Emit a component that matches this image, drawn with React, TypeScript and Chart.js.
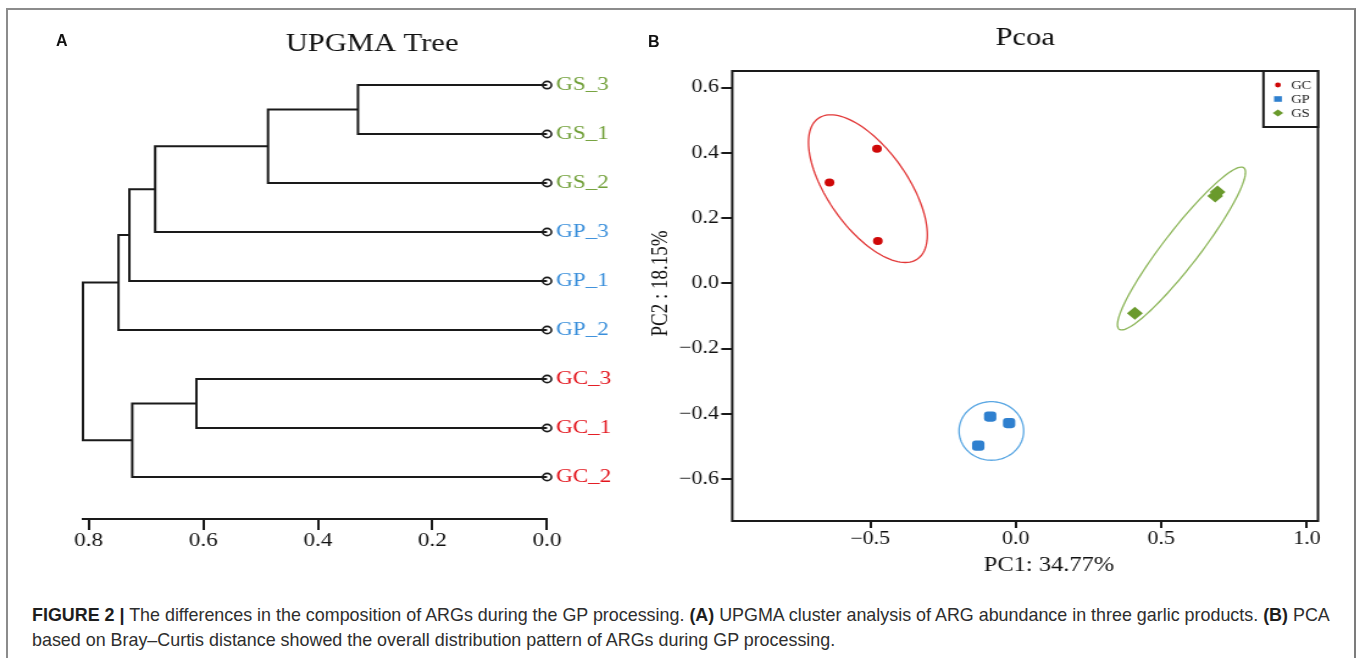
import React, { useEffect, useRef } from "react";
import { Chart, registerables } from "chart.js";

Chart.register(...registerables);

const SERIF = '"Liberation Serif", "Times New Roman", serif';
const SANS = '"Liberation Sans", Arial, Helvetica, sans-serif';
// the original figure is horizontally stretched; the chart canvases are stretched the same way
const STRETCH = 1.22;

// ---------------- Panel A: UPGMA tree ----------------
const leafNames = ["GS_3", "GS_1", "GS_2", "GP_3", "GP_1", "GP_2", "GC_3", "GC_1", "GC_2"];
const leafGroups = ["GS", "GS", "GS", "GP", "GP", "GP", "GC", "GC", "GC"];
// merge k joins mergeLeft[k] and mergeRight[k]; indices < 9 are leaves, 9 + k is merge k
const mergeLeft = [0, 9, 10, 11, 12, 6, 14, 13];
const mergeRight = [1, 2, 3, 4, 5, 7, 8, 15];
const mergeHeight = [0.33, 0.487, 0.684, 0.729, 0.748, 0.612, 0.724, 0.81];
const treeTicks = [0, 0.2, 0.4, 0.6, 0.8];

// ---------------- Panel B: PCoA ----------------
const groups = ["GC", "GP", "GS"];
const gcX = [-0.477, -0.64, -0.474];
const gcY = [0.413, 0.309, 0.13];
const gpX = [-0.088, -0.023, -0.129];
const gpY = [-0.408, -0.428, -0.497];
const gsX = [0.685, 0.693, 0.409];
const gsY = [0.268, 0.28, -0.091];
const pcoaXTicks = [-0.5, 0, 0.5, 1.0];
const pcoaYTicks = [-0.6, -0.4, -0.2, 0, 0.2, 0.4, 0.6];
// confidence ellipses (data units): centre and two half-axis vectors
const ellipseCenterX = [-0.508, -0.084, 0.569];
const ellipseCenterY = [0.2905, -0.452, 0.107];
const ellipseMajor = [[0.171, -0.215], [0.111, 0.0], [0.2144, 0.2473]];
const ellipseMinor = [[-0.1114, -0.0706], [0.0, 0.0898], [0.0489, -0.0338]];

const labelColors: Record<string, string> = { GC: "#e3141c", GP: "#3a8fdb", GS: "#72a03a" };
const pointColors: Record<string, string> = { GC: "#cf0808", GP: "#2f80cf", GS: "#6a9a2c" };
const ellipseColors: Record<string, string> = { GC: "#e23838", GP: "#5aa7e3", GS: "#8db65a" };
const INK = "#1a1a1a";

const fmt = (v: number) => (v < 0 ? "\u2212" + Math.abs(v).toFixed(1) : v.toFixed(1));

function treeDatasets() {
  const nodeY: number[] = leafNames.map((_, i) => i + 1);
  const nodeH: number[] = leafNames.map(() => 0);
  const sets: any[] = [];
  mergeHeight.forEach((h, k) => {
    const a = mergeLeft[k];
    const b = mergeRight[k];
    sets.push({
      type: "scatter",
      showLine: true,
      data: [
        { x: nodeH[a], y: nodeY[a] },
        { x: h, y: nodeY[a] },
        { x: h, y: nodeY[b] },
        { x: nodeH[b], y: nodeY[b] },
      ],
      borderColor: INK,
      borderWidth: 2,
      pointRadius: 0,
      tension: 0,
      clip: false,
      borderJoinStyle: "miter",
    });
    nodeY.push((nodeY[a] + nodeY[b]) / 2);
    nodeH.push(h);
  });
  sets.push({
    type: "scatter",
    data: leafNames.map((_, i) => ({ x: 0, y: i + 1 })),
    pointStyle: "circle",
    pointRadius: 3.6,
    pointBorderWidth: 1.6,
    pointBorderColor: INK,
    pointBackgroundColor: "rgba(255,255,255,0)",
    clip: false,
  });
  return sets;
}

const axisTitlePlugin = {
  id: "pcoaAxisTitles",
  afterDraw(chart: any) {
    const { ctx, chartArea } = chart;
    ctx.save();
    ctx.fillStyle = "#111";
    ctx.font = `20px ${SERIF}`;
    ctx.textAlign = "center";
    ctx.textBaseline = "alphabetic";
    ctx.fillText("PC1: 34.77%", (chartArea.left + chartArea.right) / 2 + 19.5, chartArea.bottom + 49.7);
    ctx.font = `19px ${SERIF}`;
    ctx.translate(chartArea.left - 53.7, (chartArea.top + chartArea.bottom) / 2 - 12.5);
    ctx.rotate(-Math.PI / 2);
    ctx.fillText("PC2 : 18.15%", 0, 0);
    ctx.restore();
  },
};

const framePlugin = {
  id: "pcoaFrame",
  afterDraw(chart: any) {
    const { ctx, chartArea } = chart;
    ctx.save();
    ctx.strokeStyle = INK;
    ctx.lineWidth = 2;
    ctx.strokeRect(chartArea.left, chartArea.top, chartArea.right - chartArea.left, chartArea.bottom - chartArea.top);
    // legend box
    const w = 44.7;
    const h = 56;
    const left = chartArea.right - w;
    const top = chartArea.top;
    ctx.fillStyle = "#fff";
    ctx.fillRect(left, top, w, h);
    ctx.strokeRect(left, top, w, h);
    groups.forEach((g, i) => {
      const cy = top + 14 + i * 14;
      const mx = chartArea.right - 32.8;
      ctx.fillStyle = pointColors[g];
      ctx.beginPath();
      if (g === "GC") {
        ctx.arc(mx, cy, 2.4, 0, Math.PI * 2);
      } else if (g === "GP") {
        ctx.rect(mx - 3.2, cy - 2.8, 6.4, 5.6);
      } else {
        ctx.moveTo(mx - 4.3, cy);
        ctx.lineTo(mx, cy - 3.5);
        ctx.lineTo(mx + 4.3, cy);
        ctx.lineTo(mx, cy + 3.5);
        ctx.closePath();
      }
      ctx.fill();
      ctx.fillStyle = "#222";
      ctx.font = `12px ${SERIF}`;
      ctx.textAlign = "left";
      ctx.textBaseline = "middle";
      ctx.fillText(g, chartArea.right - 22.1, cy + 0.5);
    });
    ctx.restore();
  },
};

const ellipsePlugin = {
  id: "pcoaEllipses",
  beforeDatasetsDraw(chart: any) {
    const { ctx } = chart;
    const xs = chart.scales.x;
    const ys = chart.scales.y;
    ctx.save();
    groups.forEach((g, i) => {
      ctx.beginPath();
      const steps = 120;
      for (let k = 0; k <= steps; k++) {
        const t = (2 * Math.PI * k) / steps;
        const vx = ellipseCenterX[i] + ellipseMajor[i][0] * Math.cos(t) + ellipseMinor[i][0] * Math.sin(t);
        const vy = ellipseCenterY[i] + ellipseMajor[i][1] * Math.cos(t) + ellipseMinor[i][1] * Math.sin(t);
        const px = xs.getPixelForValue(vx);
        const py = ys.getPixelForValue(vy);
        if (k === 0) ctx.moveTo(px, py);
        else ctx.lineTo(px, py);
      }
      ctx.closePath();
      ctx.strokeStyle = ellipseColors[g];
      ctx.lineWidth = 1.3;
      ctx.stroke();
    });
    ctx.restore();
  },
};

const A_W = 542;
const B_AXIS_W = 50;
const B_W = 639;
const CH_H = 597;

export default function App() {
  const refA = useRef<HTMLCanvasElement>(null);
  const refB = useRef<HTMLCanvasElement>(null);

  useEffect(() => {
    const chartA = new Chart(refA.current as HTMLCanvasElement, {
      type: "scatter",
      data: { datasets: treeDatasets() },
      options: {
        responsive: false,
        animation: false,
        events: [],
        layout: { padding: { left: 68, right: 0, top: 0, bottom: 0 } },
        plugins: {
          legend: { display: false },
          tooltip: { enabled: false },
          title: {
            display: true,
            text: "UPGMA Tree",
            color: "#111",
            font: { family: SERIF, size: 25, weight: "normal" },
            padding: { top: 29.3, bottom: 11.7 },
          },
        },
        scales: {
          x: {
            type: "linear",
            position: "bottom",
            reverse: true,
            min: 0,
            max: 0.81,
            afterBuildTicks: (s: any) => {
              s.ticks = treeTicks.map((v) => ({ value: v }));
            },
            afterFit: (s: any) => {
              s.height = CH_H - 519;
            },
            grid: { display: true, drawOnChartArea: false, drawTicks: true, tickLength: 11, color: INK, lineWidth: 2 },
            border: { display: true, color: INK, width: 2 },
            ticks: {
              autoSkip: false,
              maxRotation: 0,
              padding: 0,
              color: "#111",
              font: { family: SERIF, size: 19 },
              callback: (v: any) => Number(v).toFixed(1),
            },
          },
          y: {
            type: "linear",
            position: "right",
            reverse: true,
            min: 0.714,
            max: 9.857,
            afterBuildTicks: (s: any) => {
              s.ticks = leafNames.map((_, i) => ({ value: i + 1 }));
            },
            afterFit: (s: any) => {
              s.width = A_W - 448.4;
            },
            grid: { display: false, drawTicks: false },
            border: { display: false },
            ticks: {
              autoSkip: false,
              padding: 7.3,
              font: { family: SERIF, size: 19 },
              color: (c: any) => labelColors[leafGroups[Math.round(c.tick.value) - 1]],
              callback: (_v: any, i: number) => leafNames[i],
            },
          },
        },
      } as any,
    });

    const chartB = new Chart(refB.current as HTMLCanvasElement, {
      type: "scatter",
      data: {
        datasets: [
          {
            label: "GC",
            data: gcX.map((x, i) => ({ x, y: gcY[i] })),
            pointStyle: "circle",
            pointRadius: 4,
            pointBackgroundColor: pointColors.GC,
            pointBorderWidth: 0,
          },
          {
            label: "GP",
            data: gpX.map((x, i) => ({ x, y: gpY[i] })),
            pointStyle: "rectRounded",
            pointRadius: 5.9,
            pointBackgroundColor: pointColors.GP,
            pointBorderWidth: 0,
          },
          {
            label: "GS",
            data: gsX.map((x, i) => ({ x, y: gsY[i] })),
            pointStyle: "rectRot",
            pointRadius: 6.5,
            pointBackgroundColor: pointColors.GS,
            pointBorderWidth: 0,
          },
        ],
      },
      options: {
        responsive: false,
        animation: false,
        events: [],
        layout: { padding: { left: 108.4 - B_AXIS_W, right: B_W - 588.5 - B_AXIS_W, top: 0, bottom: 0 } },
        plugins: {
          legend: { display: false },
          tooltip: { enabled: false },
          title: {
            display: true,
            text: "Pcoa",
            color: "#111",
            font: { family: SERIF, size: 25, weight: "normal" },
            padding: { top: 23, bottom: 18 },
          },
        },
        scales: {
          x: {
            type: "linear",
            position: "bottom",
            min: -0.974,
            max: 1.038,
            afterBuildTicks: (s: any) => {
              s.ticks = pcoaXTicks.map((v) => ({ value: v }));
            },
            afterFit: (s: any) => {
              s.height = CH_H - 521;
            },
            grid: { display: true, drawOnChartArea: false, drawTicks: true, tickLength: 7, color: INK, lineWidth: 2 },
            border: { display: false },
            ticks: {
              autoSkip: false,
              maxRotation: 0,
              padding: 0,
              color: "#111",
              font: { family: SERIF, size: 18 },
              callback: (v: any) => fmt(Number(v)),
            },
          },
          y: {
            type: "linear",
            position: "left",
            min: -0.728,
            max: 0.651,
            afterBuildTicks: (s: any) => {
              s.ticks = pcoaYTicks.map((v) => ({ value: v }));
            },
            afterFit: (s: any) => {
              s.width = B_AXIS_W;
            },
            grid: { display: true, drawOnChartArea: false, drawTicks: true, tickLength: 9, color: INK, lineWidth: 2 },
            border: { display: false },
            ticks: {
              autoSkip: false,
              padding: 2,
              color: "#111",
              font: { family: SERIF, size: 18 },
              callback: (v: any) => fmt(Number(v)),
            },
          },
          // empty mirror axis so that the title is centred over the plot box
          y2: {
            type: "linear",
            position: "right",
            min: 0,
            max: 1,
            afterFit: (s: any) => {
              s.width = B_AXIS_W;
            },
            grid: { display: false, drawTicks: false },
            border: { display: false },
            ticks: { display: false },
          },
        },
      } as any,
      plugins: [ellipsePlugin, framePlugin, axisTitlePlugin],
    });

    return () => {
      chartA.destroy();
      chartB.destroy();
    };
  }, []);

  const stretchBox = (left: number, w: number): React.CSSProperties => ({
    position: "absolute",
    left,
    top: 0,
    width: w,
    height: CH_H,
    transform: `scaleX(${STRETCH})`,
    transformOrigin: "0 0",
  });

  const capStyle: React.CSSProperties = {
    position: "absolute",
    left: 32,
    whiteSpace: "nowrap",
    fontFamily: SANS,
    fontSize: 17.9,
    lineHeight: "20px",
    color: "#2e2e2e",
  };

  return (
    <div
      style={{
        position: "absolute",
        left: 0,
        top: 0,
        width: 1360,
        height: 658,
        overflow: "hidden",
        background: "#fff",
      }}
    >
      <div
        style={{
          position: "absolute",
          left: 6,
          top: 8,
          width: 1346,
          height: 720,
          borderTop: "2px solid #8c8c8c",
          borderLeft: "2px solid #8c8c8c",
          borderRight: "2px solid #7c7c7c",
        }}
      />
      <div style={stretchBox(0, A_W)}>
        <canvas ref={refA} width={A_W} height={CH_H} style={{ display: "block", width: A_W, height: CH_H }} />
      </div>
      <div style={stretchBox(600, B_W)}>
        <canvas ref={refB} width={B_W} height={CH_H} style={{ display: "block", width: B_W, height: CH_H }} />
      </div>
      <div
        style={{
          position: "absolute",
          left: 56,
          top: 33,
          fontFamily: SANS,
          fontWeight: "bold",
          fontSize: 16,
          lineHeight: "16px",
          color: "#111",
        }}
      >
        A
      </div>
      <div
        style={{
          position: "absolute",
          left: 648,
          top: 34,
          fontFamily: SANS,
          fontWeight: "bold",
          fontSize: 16,
          lineHeight: "16px",
          color: "#111",
        }}
      >
        B
      </div>
      <div style={{ ...capStyle, top: 604.8 }}>
        <b style={{ color: "#1e1e1e" }}>FIGURE 2 |</b> The differences in the composition of ARGs during the GP
        processing. <b style={{ color: "#1e1e1e" }}>(A)</b> UPGMA cluster analysis of ARG abundance in three garlic
        products. <b style={{ color: "#1e1e1e" }}>(B)</b> PCA
      </div>
      <div style={{ ...capStyle, top: 629.5 }}>
        based on Bray–Curtis distance showed the overall distribution pattern of ARGs during GP processing.
      </div>
    </div>
  );
}
